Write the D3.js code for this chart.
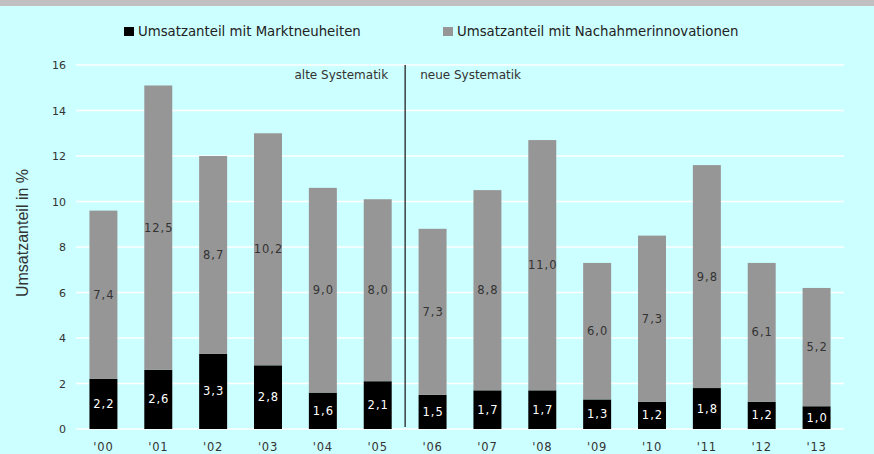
<!DOCTYPE html>
<html>
  <head>
    <meta charset="utf-8" />
    <title>Umsatzanteil mit Innovationen</title>
    <script src="https://d3js.org/d3.v7.min.js"></script>
    <style>
      body { margin: 0; background: #ccffff; }
      svg { display: block; }
    </style>
  </head>
  <body>
    <svg width="874" height="454" id="chart"></svg>

    <script>
      // Data
      var years = ["'00", "'01", "'02", "'03", "'04", "'05", "'06", "'07", "'08", "'09", "'10", "'11", "'12", "'13"];
      var marktneuheiten = [2.2, 2.6, 3.3, 2.8, 1.6, 2.1, 1.5, 1.7, 1.7, 1.3, 1.2, 1.8, 1.2, 1.0];
      var nachahmer = [7.4, 12.5, 8.7, 10.2, 9.0, 8.0, 7.3, 8.8, 11.0, 6.0, 7.3, 9.8, 6.1, 5.2];
      var yTicks = [0, 2, 4, 6, 8, 10, 12, 14, 16];
      var seriesNames = ["Umsatzanteil mit Marktneuheiten", "Umsatzanteil mit Nachahmerinnovationen"];
      var seriesColors = ["#000000", "#969696"];

      var svg = d3.select("#chart");
      var font = "DejaVu Sans, Verdana, sans-serif";

      // grey band at the top
      svg.append("rect")
        .attr("width", 874).attr("height", 6)
        .attr("fill", "#c0c0c0");

      var x = d3.scaleBand()
        .domain(years)
        .range([76, 844])
        .paddingInner(0.49)
        .paddingOuter(0.245);

      var y = d3.scaleLinear()
        .domain([0, 16])
        .range([429, 65]);

      // gridlines
      svg.append("g")
        .selectAll("line")
        .data(yTicks)
        .join("line")
        .attr("x1", 76).attr("x2", 844)
        .attr("y1", d => y(d)).attr("y2", d => y(d))
        .attr("stroke", "#ffffff")
        .attr("stroke-width", 1.5);

      // y axis labels
      svg.append("g")
        .selectAll("text")
        .data(yTicks)
        .join("text")
        .attr("x", 66)
        .attr("y", d => y(d) + 4)
        .attr("text-anchor", "end")
        .style("font-family", font)
        .style("font-size", "11px")
        .attr("fill", "#333")
        .text(d => d);

      // x axis labels
      svg.append("g")
        .selectAll("text")
        .data(years)
        .join("text")
        .attr("x", d => x(d) + x.bandwidth() / 2)
        .attr("y", 451)
        .attr("text-anchor", "middle")
        .style("font-family", font)
        .style("font-size", "11.5px")
        .style("letter-spacing", "0.8px")
        .attr("fill", "#333")
        .text(d => d);

      // stacked bars
      var rows = years.map(function(yr, i) {
        return { year: yr, a: marktneuheiten[i], b: nachahmer[i] };
      });
      var stack = d3.stack().keys(["a", "b"]);
      var layers = stack(rows);

      var layer = svg.append("g")
        .selectAll("g")
        .data(layers)
        .join("g")
        .attr("fill", (d, i) => seriesColors[i]);

      layer.selectAll("rect")
        .data(d => d)
        .join("rect")
        .attr("x", d => x(d.data.year))
        .attr("width", x.bandwidth())
        .attr("y", d => y(d[1]))
        .attr("height", d => y(d[0]) - y(d[1]));

      // value labels
      var fmt = function(v) { return v.toFixed(1).replace(".", ","); };
      layers.forEach(function(l, i) {
        svg.append("g")
          .selectAll("text")
          .data(l)
          .join("text")
          .attr("x", d => x(d.data.year) + x.bandwidth() / 2 + 0.5)
          .attr("y", d => y((d[0] + d[1]) / 2) + 4)
          .attr("text-anchor", "middle")
          .style("font-family", font)
          .style("font-size", "11.5px")
          .style("letter-spacing", "1px")
          .attr("fill", i == 0 ? "#ffffff" : "#333")
          .text(d => fmt(d[1] - d[0]));
      });

      // separator between old and new methodology
      var sepX = (x("'05") + x.bandwidth() + x("'06")) / 2;
      svg.append("line")
        .attr("x1", sepX).attr("x2", sepX)
        .attr("y1", y(16)).attr("y2", y(0) - 2)
        .attr("stroke", "#222")
        .attr("stroke-width", 1.3);

      svg.append("text")
        .attr("x", sepX - 17).attr("y", 79)
        .attr("text-anchor", "end")
        .style("font-family", font)
        .style("font-size", "12px")
        .attr("fill", "#333")
        .text("alte Systematik");

      svg.append("text")
        .attr("x", sepX + 15).attr("y", 79)
        .style("font-family", font)
        .style("font-size", "12px")
        .attr("fill", "#333")
        .text("neue Systematik");

      // y axis title
      svg.append("text")
        .attr("transform", "translate(28,233) rotate(-90)")
        .attr("text-anchor", "middle")
        .style("font-family", "Liberation Sans, Arial, sans-serif")
        .style("font-size", "16px")
        .attr("fill", "#333")
        .text("Umsatzanteil in %");

      // legend
      var legendX = [124, 443];
      var legend = svg.append("g")
        .selectAll("g")
        .data(seriesNames)
        .join("g")
        .attr("transform", (d, i) => "translate(" + legendX[i] + ",26)");

      legend.append("rect")
        .attr("width", 10).attr("height", 9).attr("y", 1)
        .attr("fill", (d, i) => seriesColors[i]);

      legend.append("text")
        .attr("x", 14).attr("y", 10)
        .style("font-family", font)
        .style("font-size", "13.3px")
        .attr("fill", "#222")
        .text(d => d);
    </script>
  </body>
</html>
